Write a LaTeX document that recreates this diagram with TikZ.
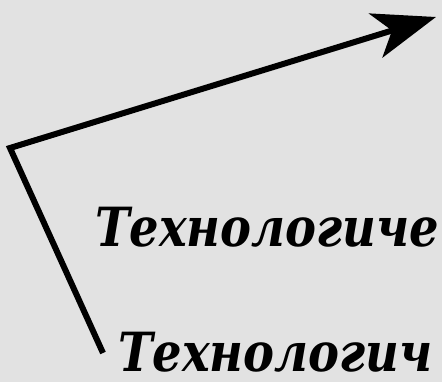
\documentclass[tikz,border=0pt]{standalone}
\usepackage{fontspec}
\setmainfont{DejaVu Serif}
\usetikzlibrary{arrows.meta}
\definecolor{bgc}{RGB}{226,226,226}
\tikzset{
  lbl/.style={anchor=base west, inner sep=0pt, xscale=0.86, font=\fontsize{54}{60}\selectfont\bfseries\itshape, text=black},
  conn/.style={line width=6pt, line join=miter, -{Stealth[length=63pt,width=46pt,inset=17pt]}}
}
\begin{document}
\begin{tikzpicture}[x=1pt,y=-1pt]
\useasboundingbox (0,0) rectangle (442,382);
\clip (0,0) rectangle (442,382);
\fill[bgc] (0,0) rectangle (442,382);
\coordinate (s) at (103,353);
\coordinate (c) at (10,148);
\coordinate (t) at (436,17);
\node[lbl] (l1) at (95,247) {Технологиче};
\node[lbl] (l2) at (118,371) {Технологич};
\draw[conn] (s) -- (c) -- (t);
\end{tikzpicture}
\end{document}
